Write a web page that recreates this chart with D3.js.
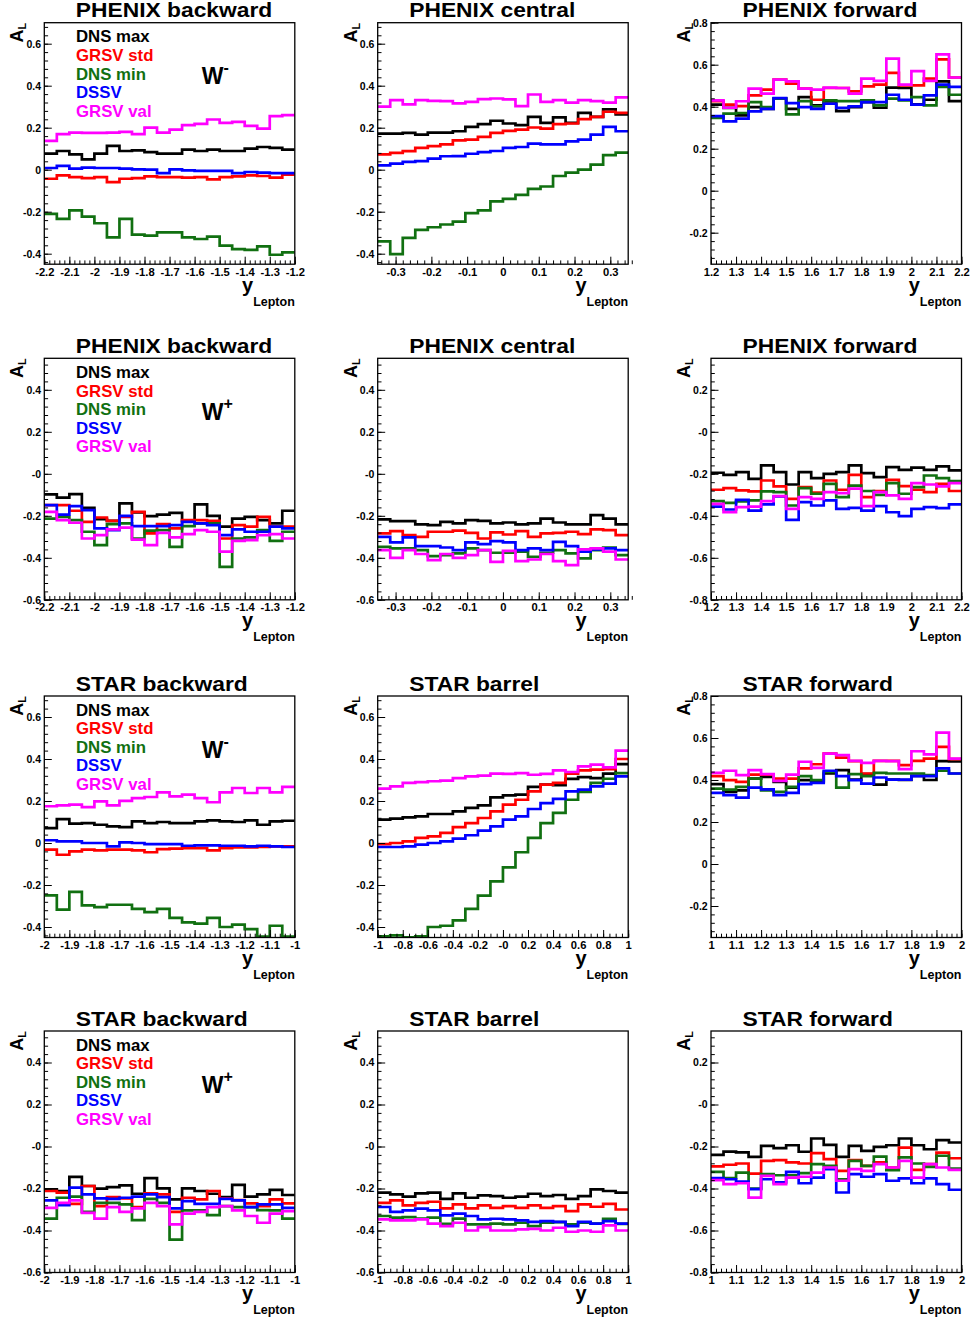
<!DOCTYPE html>
<html><head><meta charset="utf-8">
<script src="https://cdn.jsdelivr.net/npm/d3@7"></script>
<style>
body{margin:0;background:#fff}
svg{display:block}
text{font-family:"Liberation Sans",Arial,Helvetica,sans-serif;font-weight:bold}
</style>
</head><body>
<svg id="c" width="971" height="1324"></svg>
<script>
// ---------- data ----------
const seriesNames = ["DNS max","GRSV std","DNS min","DSSV","GRSV val"];
const seriesColors = ["#000000","#ff0000","#117011","#0000ff","#ff00ff"];
const nBins = 20;

const panelTitles = ["PHENIX backward","PHENIX central","PHENIX forward",
                     "PHENIX backward","PHENIX central","PHENIX forward",
                     "STAR backward","STAR barrel","STAR forward",
                     "STAR backward","STAR barrel","STAR forward"];
const bosonLabels = ["-","+","-","+"]; // per row
const xRanges = [[-2.2,-1.2],[-0.35,0.35],[1.2,2.2],[-2.2,-1.2],[-0.35,0.35],[1.2,2.2],
                 [-2,-1],[-1,1],[1,2],[-2,-1],[-1,1],[1,2]];
const yRanges = [[-0.45,0.7],[-0.45,0.7],[-0.35,0.8],[-0.6,0.55],[-0.6,0.55],[-0.8,0.35],
                 [-0.45,0.7],[-0.45,0.7],[-0.35,0.8],[-0.6,0.55],[-0.6,0.55],[-0.8,0.35]];

const xLabelsPhenixBack = ["-2.2","-2.1","-2","-1.9","-1.8","-1.7","-1.6","-1.5","-1.4","-1.3","-1.2"];
const xLabelsPhenixCent = ["-0.3","-0.2","-0.1","0","0.1","0.2","0.3"];
const xLabelsPhenixFwd  = ["1.2","1.3","1.4","1.5","1.6","1.7","1.8","1.9","2","2.1","2.2"];
const xLabelsStarBack   = ["-2","-1.9","-1.8","-1.7","-1.6","-1.5","-1.4","-1.3","-1.2","-1.1","-1"];
const xLabelsStarBarrel = ["-1","-0.8","-0.6","-0.4","-0.2","-0","0.2","0.4","0.6","0.8","1"];
const xLabelsStarFwd    = ["1","1.1","1.2","1.3","1.4","1.5","1.6","1.7","1.8","1.9","2"];
const xMinorSteps = [0.02,0.02,0.02,0.02,0.02,0.02,0.02,0.05,0.02,0.02,0.05,0.02];

const yLabelsA = ["-0.4","-0.2","0","0.2","0.4","0.6"];
const yLabelsB = ["-0.2","0","0.2","0.4","0.6","0.8"];
const yLabelsC = ["-0.6","-0.4","-0.2","-0","0.2","0.4"];
const yLabelsD = ["-0.8","-0.6","-0.4","-0.2","-0","0.2"];

// series order: DNS max, GRSV std, DNS min, DSSV, GRSV val
const phenixBackwardWminus = [
 [0.077,0.089,0.073,0.049,0.077,0.113,0.089,0.092,0.084,0.077,0.077,0.096,0.089,0.096,0.089,0.089,0.1,0.108,0.104,0.096],
 [-0.043,-0.027,-0.035,-0.04,-0.035,-0.059,-0.043,-0.04,-0.032,-0.035,-0.035,-0.038,-0.035,-0.046,-0.035,-0.032,-0.027,-0.03,-0.038,-0.024],
 [-0.21,-0.234,-0.194,-0.223,-0.255,-0.322,-0.234,-0.309,-0.314,-0.298,-0.298,-0.322,-0.33,-0.319,-0.362,-0.378,-0.382,-0.365,-0.405,-0.394],
 [0.008,0.018,0.005,0.01,0.008,0.008,0.005,0.002,0,-0.016,0.002,-0.003,-0.006,-0.006,-0.006,-0.016,-0.011,-0.014,-0.016,-0.016],
 [0.137,0.169,0.177,0.175,0.175,0.177,0.18,0.169,0.2,0.177,0.191,0.212,0.218,0.239,0.223,0.228,0.209,0.196,0.255,0.26]];
const phenixCentralWminus = [
 [0.172,0.172,0.175,0.167,0.177,0.177,0.183,0.204,0.217,0.233,0.22,0.212,0.252,0.223,0.249,0.223,0.271,0.252,0.287,0.263],
 [0.073,0.08,0.088,0.104,0.112,0.121,0.14,0.143,0.156,0.175,0.185,0.191,0.201,0.196,0.217,0.22,0.241,0.252,0.276,0.271],
 [-0.341,-0.402,-0.325,-0.287,-0.274,-0.261,-0.247,-0.207,-0.194,-0.151,-0.139,-0.12,-0.091,-0.08,-0.03,-0.014,0,0.024,0.069,0.081],
 [0.021,0.029,0.037,0.041,0.053,0.064,0.065,0.076,0.084,0.089,0.104,0.108,0.124,0.121,0.121,0.135,0.143,0.167,0.204,0.183],
 [0.30,0.331,0.311,0.331,0.328,0.327,0.316,0.323,0.336,0.339,0.335,0.303,0.358,0.323,0.331,0.319,0.331,0.327,0.319,0.344]];
const phenixForwardWminus = [
 [0.41,0.394,0.359,0.398,0.39,0.438,0.39,0.446,0.406,0.425,0.379,0.398,0.422,0.395,0.491,0.489,0.411,0.433,0.521,0.427],
 [0.426,0.41,0.403,0.454,0.481,0.529,0.51,0.486,0.433,0.489,0.489,0.473,0.497,0.505,0.561,0.502,0.502,0.534,0.625,0.539],
 [0.347,0.367,0.37,0.422,0.398,0.438,0.363,0.427,0.402,0.43,0.427,0.427,0.43,0.406,0.438,0.43,0.446,0.406,0.494,0.457],
 [0.355,0.33,0.343,0.378,0.39,0.441,0.417,0.398,0.39,0.414,0.394,0.402,0.422,0.422,0.457,0.433,0.41,0.454,0.505,0.494],
 [0.43,0.395,0.426,0.486,0.462,0.529,0.521,0.486,0.481,0.491,0.489,0.462,0.534,0.523,0.629,0.505,0.569,0.523,0.649,0.539]];
const phenixBackwardWplus = [
 [-0.098,-0.113,-0.097,-0.162,-0.216,-0.224,-0.141,-0.184,-0.202,-0.194,-0.186,-0.224,-0.146,-0.2,-0.252,-0.213,-0.205,-0.221,-0.236,-0.176],
 [-0.149,-0.149,-0.176,-0.229,-0.208,-0.224,-0.205,-0.181,-0.284,-0.24,-0.26,-0.221,-0.221,-0.224,-0.308,-0.244,-0.252,-0.205,-0.252,-0.252],
 [-0.213,-0.205,-0.221,-0.276,-0.34,-0.24,-0.236,-0.308,-0.271,-0.268,-0.348,-0.249,-0.236,-0.236,-0.443,-0.308,-0.303,-0.268,-0.319,-0.276],
 [-0.149,-0.194,-0.154,-0.173,-0.26,-0.268,-0.2,-0.249,-0.249,-0.249,-0.244,-0.229,-0.236,-0.244,-0.292,-0.265,-0.276,-0.276,-0.252,-0.26],
 [-0.181,-0.221,-0.233,-0.308,-0.292,-0.265,-0.256,-0.313,-0.34,-0.281,-0.303,-0.287,-0.268,-0.276,-0.371,-0.319,-0.316,-0.292,-0.287,-0.308]];
const phenixCentralWplus = [
 [-0.217,-0.225,-0.225,-0.241,-0.244,-0.229,-0.236,-0.221,-0.224,-0.236,-0.232,-0.241,-0.236,-0.213,-0.232,-0.241,-0.241,-0.197,-0.213,-0.241],
 [-0.284,-0.273,-0.292,-0.3,-0.276,-0.276,-0.271,-0.281,-0.308,-0.279,-0.289,-0.273,-0.3,-0.284,-0.281,-0.276,-0.287,-0.265,-0.268,-0.292],
 [-0.348,-0.355,-0.355,-0.363,-0.392,-0.387,-0.379,-0.355,-0.363,-0.376,-0.376,-0.371,-0.395,-0.376,-0.363,-0.379,-0.403,-0.363,-0.351,-0.387],
 [-0.3,-0.327,-0.303,-0.344,-0.344,-0.351,-0.363,-0.327,-0.335,-0.321,-0.327,-0.363,-0.355,-0.363,-0.324,-0.344,-0.371,-0.36,-0.355,-0.363],
 [-0.363,-0.4,-0.363,-0.382,-0.411,-0.382,-0.4,-0.387,-0.363,-0.419,-0.367,-0.416,-0.408,-0.382,-0.416,-0.435,-0.36,-0.355,-0.371,-0.408]];
const phenixForwardWplus = [
 [-0.195,-0.205,-0.192,-0.224,-0.16,-0.192,-0.251,-0.192,-0.221,-0.2,-0.192,-0.16,-0.197,-0.216,-0.168,-0.181,-0.171,-0.181,-0.165,-0.184],
 [-0.276,-0.268,-0.279,-0.284,-0.232,-0.26,-0.319,-0.263,-0.29,-0.232,-0.276,-0.205,-0.311,-0.282,-0.229,-0.259,-0.276,-0.287,-0.248,-0.282],
 [-0.33,-0.338,-0.332,-0.327,-0.284,-0.287,-0.351,-0.268,-0.295,-0.248,-0.311,-0.256,-0.282,-0.3,-0.244,-0.295,-0.263,-0.208,-0.221,-0.235],
 [-0.356,-0.37,-0.324,-0.375,-0.346,-0.308,-0.419,-0.335,-0.351,-0.327,-0.367,-0.362,-0.375,-0.354,-0.383,-0.402,-0.367,-0.359,-0.363,-0.346],
 [-0.343,-0.383,-0.359,-0.356,-0.33,-0.306,-0.367,-0.311,-0.319,-0.287,-0.292,-0.271,-0.354,-0.287,-0.303,-0.319,-0.244,-0.251,-0.26,-0.244]];
const starBackwardWminus = [
 [0.071,0.114,0.092,0.095,0.087,0.079,0.076,0.103,0.095,0.1,0.095,0.095,0.103,0.108,0.103,0.1,0.108,0.087,0.103,0.106],
 [-0.032,-0.056,-0.04,-0.032,-0.035,-0.032,-0.032,-0.035,-0.044,-0.029,-0.027,-0.024,-0.024,-0.035,-0.024,-0.021,-0.021,-0.019,-0.016,-0.016],
 [-0.249,-0.317,-0.233,-0.297,-0.305,-0.294,-0.294,-0.314,-0.329,-0.314,-0.357,-0.378,-0.384,-0.357,-0.4,-0.389,-0.41,-0.446,-0.394,-0.446],
 [0.013,0.008,0.008,0,0,-0.016,0.003,0,-0.005,-0.005,-0.005,-0.013,-0.011,-0.011,-0.013,-0.013,-0.016,-0.013,-0.016,-0.019],
 [0.175,0.179,0.183,0.171,0.198,0.179,0.201,0.214,0.219,0.241,0.222,0.23,0.214,0.194,0.241,0.262,0.238,0.262,0.241,0.267]];
const starBarrelWminus = [
 [0.111,0.116,0.122,0.127,0.138,0.138,0.151,0.167,0.179,0.217,0.227,0.23,0.267,0.278,0.275,0.305,0.314,0.309,0.33,0.376],
 [-0.005,0,0.008,0.024,0.032,0.048,0.076,0.095,0.119,0.151,0.183,0.206,0.246,0.278,0.286,0.33,0.346,0.349,0.352,0.4],
 [-0.444,-0.44,-0.449,-0.444,-0.4,-0.394,-0.368,-0.314,-0.251,-0.183,-0.116,-0.044,0.024,0.095,0.143,0.206,0.243,0.286,0.306,0.333],
 [-0.019,-0.019,-0.016,-0.008,0,0.008,0.021,0.037,0.059,0.079,0.111,0.127,0.162,0.19,0.21,0.246,0.254,0.27,0.283,0.317],
 [0.259,0.27,0.286,0.29,0.294,0.297,0.309,0.317,0.321,0.33,0.329,0.333,0.325,0.329,0.346,0.338,0.365,0.373,0.36,0.44]];
const starForwardWminus = [
 [0.38,0.343,0.351,0.407,0.415,0.391,0.364,0.399,0.391,0.431,0.447,0.402,0.428,0.378,0.402,0.4,0.42,0.4,0.49,0.488],
 [0.418,0.399,0.391,0.426,0.426,0.407,0.407,0.455,0.475,0.526,0.507,0.49,0.431,0.491,0.491,0.471,0.491,0.502,0.558,0.499],
 [0.359,0.354,0.367,0.407,0.351,0.343,0.367,0.418,0.399,0.439,0.364,0.428,0.418,0.434,0.431,0.431,0.431,0.423,0.444,0.431],
 [0.339,0.328,0.316,0.364,0.355,0.328,0.339,0.38,0.386,0.444,0.418,0.399,0.383,0.412,0.402,0.402,0.418,0.418,0.455,0.431],
 [0.434,0.444,0.423,0.447,0.428,0.396,0.426,0.487,0.458,0.526,0.518,0.491,0.482,0.491,0.49,0.452,0.537,0.522,0.626,0.502]];
const starBackwardWplus = [
 [-0.204,-0.212,-0.145,-0.188,-0.201,-0.193,-0.185,-0.225,-0.151,-0.199,-0.252,-0.199,-0.212,-0.225,-0.241,-0.183,-0.239,-0.228,-0.207,-0.231],
 [-0.212,-0.22,-0.273,-0.188,-0.284,-0.241,-0.247,-0.289,-0.223,-0.228,-0.311,-0.244,-0.252,-0.212,-0.247,-0.255,-0.271,-0.284,-0.252,-0.271],
 [-0.343,-0.244,-0.239,-0.311,-0.268,-0.268,-0.276,-0.351,-0.249,-0.268,-0.443,-0.304,-0.304,-0.327,-0.284,-0.289,-0.289,-0.303,-0.304,-0.343],
 [-0.257,-0.279,-0.196,-0.228,-0.247,-0.249,-0.244,-0.239,-0.228,-0.241,-0.295,-0.26,-0.273,-0.273,-0.249,-0.257,-0.289,-0.276,-0.276,-0.292],
 [-0.292,-0.268,-0.257,-0.316,-0.343,-0.289,-0.311,-0.295,-0.268,-0.284,-0.371,-0.32,-0.311,-0.289,-0.284,-0.304,-0.331,-0.363,-0.32,-0.308]];
const starBarrelWplus = [
 [-0.22,-0.228,-0.239,-0.223,-0.22,-0.249,-0.223,-0.244,-0.233,-0.236,-0.244,-0.239,-0.225,-0.236,-0.231,-0.249,-0.236,-0.204,-0.212,-0.22],
 [-0.268,-0.257,-0.28,-0.268,-0.263,-0.295,-0.276,-0.295,-0.28,-0.292,-0.284,-0.292,-0.28,-0.292,-0.284,-0.308,-0.276,-0.287,-0.273,-0.3],
 [-0.331,-0.339,-0.336,-0.343,-0.339,-0.368,-0.343,-0.371,-0.371,-0.367,-0.371,-0.363,-0.379,-0.363,-0.36,-0.371,-0.363,-0.367,-0.344,-0.368],
 [-0.288,-0.311,-0.304,-0.296,-0.304,-0.328,-0.32,-0.331,-0.347,-0.344,-0.347,-0.352,-0.359,-0.355,-0.359,-0.379,-0.359,-0.367,-0.355,-0.367],
 [-0.347,-0.352,-0.352,-0.347,-0.367,-0.379,-0.363,-0.4,-0.384,-0.4,-0.4,-0.395,-0.392,-0.4,-0.387,-0.406,-0.4,-0.406,-0.376,-0.4]];
const starForwardWplus = [
 [-0.24,-0.224,-0.228,-0.249,-0.197,-0.208,-0.194,-0.225,-0.162,-0.192,-0.249,-0.197,-0.221,-0.202,-0.194,-0.162,-0.194,-0.213,-0.17,-0.181],
 [-0.295,-0.287,-0.281,-0.329,-0.268,-0.265,-0.276,-0.281,-0.232,-0.26,-0.316,-0.265,-0.292,-0.276,-0.3,-0.205,-0.311,-0.284,-0.229,-0.256],
 [-0.321,-0.351,-0.324,-0.4,-0.332,-0.337,-0.337,-0.327,-0.284,-0.292,-0.356,-0.268,-0.292,-0.248,-0.313,-0.252,-0.281,-0.297,-0.244,-0.305],
 [-0.351,-0.356,-0.367,-0.403,-0.356,-0.371,-0.321,-0.375,-0.348,-0.308,-0.419,-0.332,-0.344,-0.332,-0.363,-0.352,-0.375,-0.352,-0.379,-0.406],
 [-0.36,-0.379,-0.375,-0.443,-0.34,-0.379,-0.348,-0.344,-0.324,-0.3,-0.363,-0.308,-0.316,-0.284,-0.3,-0.268,-0.348,-0.284,-0.3,-0.311]];

// ---------- panel table ----------
const panelSeries = [phenixBackwardWminus, phenixCentralWminus, phenixForwardWminus,
                     phenixBackwardWplus, phenixCentralWplus, phenixForwardWplus,
                     starBackwardWminus, starBarrelWminus, starForwardWminus,
                     starBackwardWplus, starBarrelWplus, starForwardWplus];
const panelXLabels = [xLabelsPhenixBack, xLabelsPhenixCent, xLabelsPhenixFwd,
                      xLabelsPhenixBack, xLabelsPhenixCent, xLabelsPhenixFwd,
                      xLabelsStarBack, xLabelsStarBarrel, xLabelsStarFwd,
                      xLabelsStarBack, xLabelsStarBarrel, xLabelsStarFwd];
const panelYLabels = [yLabelsA, yLabelsA, yLabelsB, yLabelsC, yLabelsC, yLabelsD,
                      yLabelsA, yLabelsA, yLabelsB, yLabelsC, yLabelsC, yLabelsD];

// ---------- layout ----------
const colLeft = [44.3, 377.7, 711];
const rowTop = [22.7, 358.3, 696, 1031];
const plotW = 250.5, plotH = 241.5;

const svg = d3.select("#c");
svg.append("rect").attr("width",971).attr("height",1324).attr("fill","#fff");

function panel(idx) {
  const col = idx % 3, row = Math.floor(idx / 3);
  const g = svg.append("g").attr("transform", `translate(${colLeft[col]},${rowTop[row]})`);
  const xd = xRanges[idx], yd = yRanges[idx];
  const x = d3.scaleLinear().domain(xd).range([0, plotW]);
  const y = d3.scaleLinear().domain(yd).range([plotH, 0]);

  const clipId = "clip" + idx;
  g.append("clipPath").attr("id", clipId).append("rect").attr("width", plotW).attr("height", plotH);

  // histograms
  const bw = (xd[1] - xd[0]) / nBins;
  const line = d3.line().x(d => x(d[0])).y(d => y(d[1])).curve(d3.curveStepAfter);
  const hg = g.append("g").attr("clip-path", `url(#${clipId})`);
  panelSeries[idx].forEach((vals, k) => {
    const pts = vals.map((v, i) => [xd[0] + i * bw, v]);
    pts.push([xd[1], vals[vals.length - 1]]);
    hg.append("path").attr("d", line(pts)).attr("fill", "none")
      .attr("stroke", seriesColors[k]).attr("stroke-width", 2.7)
      .attr("stroke-linejoin", "miter").attr("stroke-linecap", "butt");
  });

  // axes: x
  const xl = panelXLabels[idx];
  const xMaj = xl.map(s => parseFloat(s));
  const xs = xMinorSteps[idx];
  const xMin = d3.range(Math.round(xd[0] / xs), Math.round(xd[1] / xs) + 1).map(k => k * xs);
  g.append("g").attr("transform", `translate(0,${plotH})`)
    .call(d3.axisBottom(x).tickValues(xMin).tickSize(-3.8).tickFormat(""))
    .call(a => a.select(".domain").remove());
  const xa = g.append("g").attr("transform", `translate(0,${plotH})`)
    .call(d3.axisBottom(x).tickValues(xMaj).tickSize(-7.5).tickPadding(4.6).tickFormat((d, i) => xl[i]))
    .call(a => a.select(".domain").remove());
  xa.selectAll("text").attr("font-size", 10).attr("font-family", null).attr("fill", "#000")
    .attr("transform", "scale(1.12,1)");

  // axes: y
  const yl = panelYLabels[idx];
  const yMaj = yl.map(s => parseFloat(s));
  const ys = 0.04;
  const yMin = d3.range(Math.ceil(yd[0] / ys - 1e-6), Math.floor(yd[1] / ys + 1e-6) + 1).map(k => k * ys);
  g.append("g")
    .call(d3.axisLeft(y).tickValues(yMin).tickSize(-3.8).tickFormat(""))
    .call(a => a.select(".domain").remove());
  const ya = g.append("g")
    .call(d3.axisLeft(y).tickValues(yMaj).tickSize(-7.5).tickPadding(3.3).tickFormat((d, i) => yl[i]))
    .call(a => a.select(".domain").remove());
  ya.selectAll("text").attr("font-size", 10.5).attr("font-family", null).attr("fill", "#000");
  g.selectAll(".tick line").attr("stroke", "#000").attr("stroke-width", 1);

  // frame
  g.append("rect").attr("width", plotW).attr("height", plotH)
    .attr("fill", "none").attr("stroke", "#000").attr("stroke-width", 1.3);

  // title
  g.append("text").attr("transform", `translate(31.5,-5.3) scale(1.17,1)`)
    .attr("font-size", 19.5).text(panelTitles[idx]);

  // y axis title A_L
  const yt = g.append("text").attr("transform", "translate(-21,0) rotate(-90)")
    .attr("text-anchor", "end").attr("font-size", 18);
  yt.append("tspan").text("A");
  yt.append("tspan").attr("font-size", 11).attr("dy", 3).text("L");

  // x axis title y_Lepton
  const xt = g.append("text").attr("x", plotW).attr("y", plotH + 27.5)
    .attr("text-anchor", "end").attr("font-size", 20);
  xt.append("tspan").text("y");
  xt.append("tspan").attr("font-size", 12.5).attr("dy", 14).text("Lepton");

  // legend + boson label on first column
  if (col === 0) {
    seriesNames.forEach((nm, k) => {
      g.append("text").attr("transform", `translate(31.7,${19.6 + 18.6 * k}) scale(1.05,1)`)
        .attr("font-size", 16).attr("fill", seriesColors[k]).text(nm);
    });
    const wt = g.append("text").attr("x", 157.4).attr("y", 61.5).attr("font-size", 23);
    wt.append("tspan").text("W");
    wt.append("tspan").attr("font-size", 16).attr("dy", -11).text(bosonLabels[row]);
  }
}

for (let i = 0; i < 12; i++) panel(i);
</script>
</body></html>
